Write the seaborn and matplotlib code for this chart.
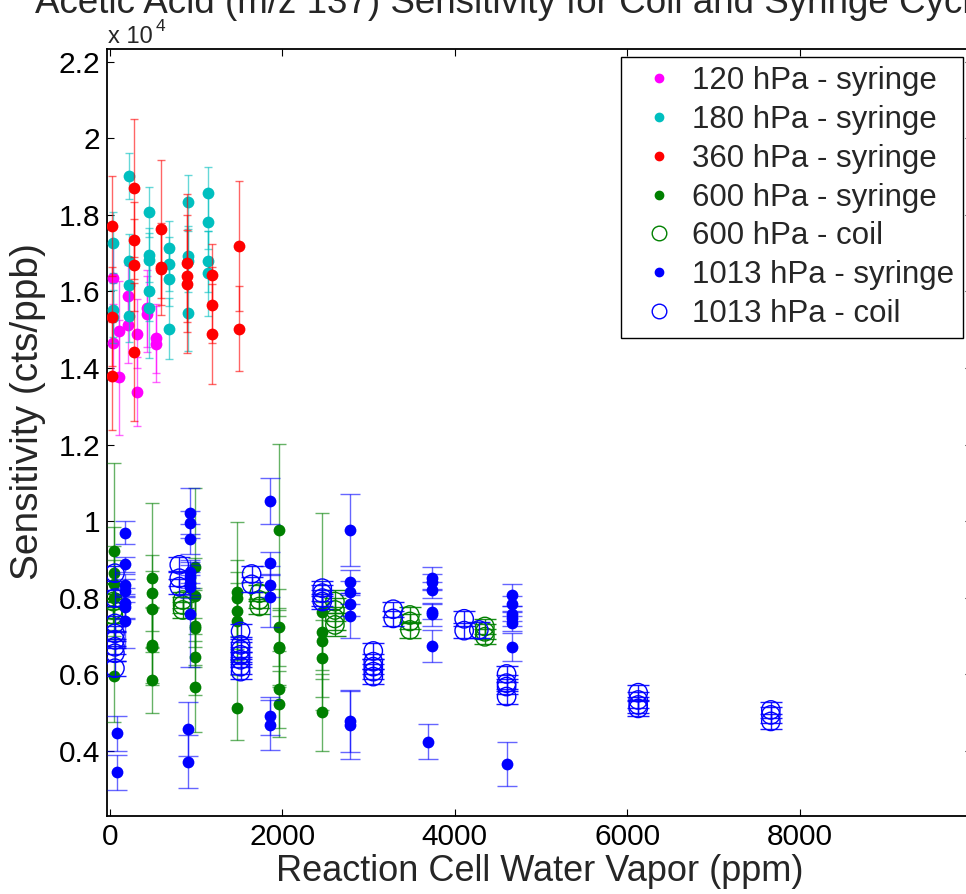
import numpy as np
import pandas as pd
import matplotlib
matplotlib.use("Agg")
import matplotlib.pyplot as plt
from matplotlib.lines import Line2D
from matplotlib.ticker import FuncFormatter
import seaborn as sns

# ---------------- data (sensitivity in units of 10^4 cts/ppb) ----------------
labels = ["120 hPa - syringe", "180 hPa - syringe", "360 hPa - syringe",
          "600 hPa - syringe", "600 hPa - coil", "1013 hPa - syringe",
          "1013 hPa - coil"]

x_120 = [42, 42, 108, 108, 216, 216, 320, 320, 429, 429, 533, 533]
y_120 = [1.634, 1.466, 1.497, 1.376, 1.589, 1.512, 1.489, 1.338, 1.556, 1.541, 1.478, 1.463]
e_120 = [0.10, 0.10, 0.13, 0.15, 0.08, 0.10, 0.09, 0.09, 0.10, 0.10, 0.09, 0.10]

x_180 = [42, 42, 42, 224, 224, 224, 224, 456, 456, 456, 456, 456,
         688, 688, 688, 688, 911, 911, 911, 911, 1143, 1143, 1143, 1143]
y_180 = [1.727, 1.551, 1.534, 1.901, 1.679, 1.617, 1.537, 1.808, 1.695, 1.682, 1.602, 1.556,
         1.713, 1.671, 1.633, 1.503, 1.833, 1.692, 1.679, 1.544, 1.856, 1.781, 1.679, 1.647]
e_180 = [0.08, 0.07, 0.07, 0.06, 0.07, 0.07, 0.07, 0.065, 0.07, 0.07, 0.08, 0.13,
         0.07, 0.07, 0.07, 0.08, 0.07, 0.08, 0.08, 0.10, 0.07, 0.07, 0.08, 0.11]

x_360 = [30, 30, 30, 285, 285, 285, 285, 591, 591, 591, 900, 900, 900,
         1190, 1190, 1190, 1495, 1495]
y_360 = [1.771, 1.534, 1.379, 1.871, 1.733, 1.668, 1.441, 1.764, 1.665, 1.659,
         1.675, 1.640, 1.619, 1.644, 1.565, 1.489, 1.719, 1.503]
e_360 = [0.13, 0.13, 0.14, 0.18, 0.10, 0.12, 0.18, 0.18, 0.10, 0.12,
         0.18, 0.12, 0.18, 0.08, 0.10, 0.13, 0.17, 0.11]

x_600s = [54] * 5 + [487] * 6 + [989] * 6 + [1480] * 5 + [1967] * 6 + [2465] * 5
y_600s = [0.922, 0.864, 0.835, 0.799, 0.596,
          0.852, 0.812, 0.770, 0.677, 0.672, 0.585,
          0.879, 0.805, 0.725, 0.720, 0.646, 0.568,
          0.816, 0.799, 0.766, 0.738, 0.513,
          0.977, 0.723, 0.672, 0.668, 0.561, 0.523,
          0.764, 0.711, 0.688, 0.642, 0.501]
e_600s = [0.23, 0.12, 0.10, 0.10, 0.12,
          0.195, 0.10, 0.10, 0.10, 0.10, 0.087,
          0.207, 0.10, 0.10, 0.10, 0.10, 0.118,
          0.183, 0.10, 0.10, 0.10, 0.084,
          0.224, 0.10, 0.10, 0.10, 0.10, 0.086,
          0.258, 0.10, 0.10, 0.10, 0.101]

x_600c = [42] * 4 + [846] * 3 + [1735] * 3 + [2612] * 4 + [3482] * 3 + [4351] * 3
y_600c = [0.816, 0.790, 0.768, 0.755, 0.794, 0.781, 0.768, 0.812, 0.794, 0.777,
          0.790, 0.768, 0.746, 0.729, 0.755, 0.738, 0.716, 0.725, 0.711, 0.698]
e_600c = [0.02, 0.02, 0.02, 0.02, 0.02, 0.02, 0.02, 0.02, 0.02, 0.02,
          0.03, 0.03, 0.03, 0.03, 0.02, 0.02, 0.02, 0.02, 0.02, 0.02]

x_1013s = [88] * 2 + [177] * 7 + [911] * 2 + [931] * 8 + [1859] * 6 + [2786] * 7 + \
          [3740] * 6 + [3694] + [4668] * 6 + [4610]
y_1013s = [0.446, 0.344,
           0.970, 0.887, 0.832, 0.818, 0.786, 0.775, 0.740,
           0.457, 0.372,
           1.021, 0.996, 0.953, 0.868, 0.855, 0.838, 0.829, 0.757,
           1.053, 0.890, 0.833, 0.803, 0.492, 0.468,
           0.977, 0.842, 0.814, 0.783, 0.751, 0.477, 0.468,
           0.851, 0.842, 0.820, 0.764, 0.757, 0.674,
           0.424,
           0.807, 0.784, 0.758, 0.746, 0.733, 0.671,
           0.366]
e_1013s = [0.045, 0.045,
           0.03, 0.02, 0.03, 0.03, 0.04, 0.03, 0.07,
           0.07, 0.07,
           0.066, 0.03, 0.04, 0.03, 0.03, 0.03, 0.03, 0.137,
           0.06, 0.03, 0.03, 0.08, 0.05, 0.065,
           0.093, 0.03, 0.03, 0.03, 0.055, 0.08, 0.09,
           0.03, 0.02, 0.02, 0.02, 0.03, 0.043,
           0.045,
           0.029, 0.02, 0.02, 0.02, 0.02, 0.036,
           0.058]

x_1013c = [61] * 8 + [807] * 3 + [1646] * 2 + [1518] * 7 + [2465] * 4 + [3057] * 5 + \
          [3288] * 2 + [4111] * 2 + [4281] + [4603] * 4 + [6129] * 4 + [7667] * 3
y_1013c = [0.864, 0.799, 0.733, 0.707, 0.690, 0.672, 0.655, 0.616,
           0.886, 0.851, 0.829,
           0.862, 0.835,
           0.712, 0.677, 0.664, 0.651, 0.638, 0.620, 0.607,
           0.825, 0.812, 0.799, 0.790,
           0.661, 0.633, 0.620, 0.607, 0.594,
           0.770, 0.746,
           0.745, 0.714,
           0.716,
           0.601, 0.577, 0.568, 0.542,
           0.552, 0.533, 0.520, 0.511,
           0.507, 0.494, 0.477]
e_1013c = [0.02] * len(y_1013c)

xs = [x_120, x_180, x_360, x_600s, x_600c, x_1013s, x_1013c]
ys = [y_120, y_180, y_360, y_600s, y_600c, y_1013s, y_1013c]
es = [e_120, e_180, e_360, e_600s, e_600c, e_1013s, e_1013c]

x_ticks = [0, 2000, 4000, 6000, 8000]
y_ticks = [0.4, 0.6, 0.8, 1.0, 1.2, 1.4, 1.6, 1.8, 2.0, 2.2]

title_text = "Acetic Acid (m/z 137) Sensitivity for Coil and Syringe Cycles"
x_label = "Reaction Cell Water Vapor (ppm)"
y_label = "Sensitivity (cts/ppb)"

# ---------------- style ----------------
colors = ["#ff00ff", "#00bfbf", "#ff0000", "#008000", "#008000", "#0000ff", "#0000ff"]
open_marker = [False, False, False, False, True, False, True]
capsizes = [3, 3, 3, 5, 8, 7, 8]

sns.set_style("ticks")
plt.rcParams["font.family"] = ["Liberation Sans", "DejaVu Sans"]

W, H = 966, 894
fig = plt.figure(figsize=(W / 100, H / 100), dpi=100)
ax = fig.add_axes([107 / W, 1 - 816 / H, (972 - 107) / W, (816 - 49) / H])

frames = []
for i, lab in enumerate(labels):
    frames.append(pd.DataFrame({"x": xs[i], "y": ys[i], "err": es[i], "series": lab}))
df = pd.concat(frames, ignore_index=True)

for i, lab in enumerate(labels):
    sub = df[df["series"] == lab]
    c = colors[i]
    ax.errorbar(sub["x"], sub["y"], yerr=sub["err"], fmt="none", ecolor=c,
                elinewidth=1.0, capsize=capsizes[i], capthick=1.0,
                alpha=0.6 if not open_marker[i] else 0.9, zorder=2 + i)
    if open_marker[i]:
        sns.scatterplot(data=sub, x="x", y="y", ax=ax, color=c, facecolor="none",
                        edgecolor=c, s=175, linewidth=1.0, marker="o",
                        zorder=3 + i, legend=False)
    else:
        sns.scatterplot(data=sub, x="x", y="y", ax=ax, color=c, edgecolor=c,
                        s=72, linewidth=0, marker="o", zorder=3 + i, legend=False)

ax.set_xlim(-31, 10000)
ax.set_ylim(0.23, 2.233)
ax.set_xticks(x_ticks)
ax.set_yticks(y_ticks)
ax.yaxis.set_major_formatter(FuncFormatter(lambda v, p: "%g" % round(v, 2)))
ax.tick_params(direction="in", length=5, width=0.8, top=True, right=True,
               labelsize=21.5, colors="black")
ax.tick_params(axis="y", pad=5)
ax.tick_params(axis="x", pad=5)
for sp in ax.spines.values():
    sp.set_visible(True)
    sp.set_color("black")
    sp.set_linewidth(1.3)

ax.set_xlabel(x_label, fontsize=26, labelpad=2)
ax.set_ylabel(y_label, fontsize=28)
ax.yaxis.set_label_coords(-0.071, 0.527)

# legend
handles = []
for i, lab in enumerate(labels):
    if open_marker[i]:
        handles.append(Line2D([], [], linestyle="none", marker="o", markersize=10.5,
                              markerfacecolor="none", markeredgecolor=colors[i],
                              markeredgewidth=1.0))
    else:
        handles.append(Line2D([], [], linestyle="none", marker="o", markersize=6,
                              markerfacecolor=colors[i], markeredgecolor=colors[i]))
leg = ax.legend(handles, labels, loc="upper right",
                bbox_to_anchor=(963 / W, 1 - 57 / H), bbox_transform=fig.transFigure,
                fontsize=22.5, frameon=True, fancybox=False, framealpha=1,
                edgecolor="black", borderpad=0.3, labelspacing=0.28,
                handlelength=1.8, handletextpad=0.15, borderaxespad=0)
leg.get_frame().set_linewidth(1.0)
leg.set_zorder(20)

# title (clipped by figure top like reference) and exponent label
fig.text(35 / W, 1 - 13 / H, title_text, fontsize=26.5, ha="left", va="baseline")
fig.text(108 / W, 1 - 43 / H, "x 10", fontsize=17, ha="left", va="baseline")
fig.text(156 / W, 1 - 31 / H, "4", fontsize=12.5, ha="left", va="baseline")

fig.savefig("out.png", dpi=100)
